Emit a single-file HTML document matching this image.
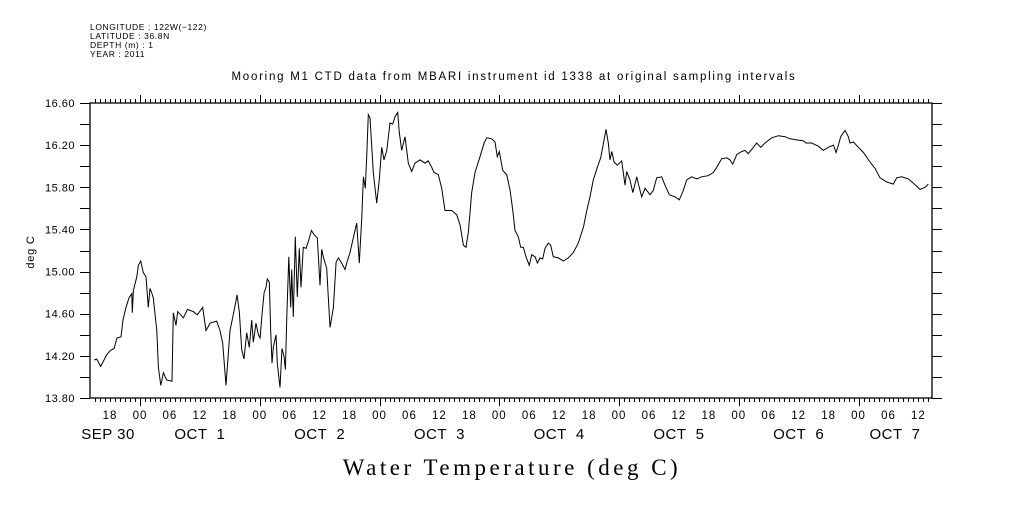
<!DOCTYPE html>
<html><head><meta charset="utf-8"><style>
body{margin:0;background:#fff}
svg text{font-family:"Liberation Sans",sans-serif;fill:#000}
</style></head><body>
<svg id="chart" width="1009" height="504" viewBox="0 0 1009 504" xmlns="http://www.w3.org/2000/svg">
<g font-size="8.5" letter-spacing="0.6">
<text x="90" y="30">LONGITUDE : 122W(−122)</text>
<text x="90" y="39">LATITUDE : 36.8N</text>
<text x="90" y="48">DEPTH (m) : 1</text>
<text x="90" y="57">YEAR : 2011</text>
</g>
<text x="514" y="80" font-size="11.5" letter-spacing="1.75" text-anchor="middle">Mooring M1 CTD data from MBARI instrument id 1338 at original sampling intervals</text>
<text transform="translate(34,252) rotate(-90)" font-size="11" letter-spacing="0.8" text-anchor="middle">deg C</text>
<text x="512" y="475" font-size="23" letter-spacing="3.5" text-anchor="middle" style="font-family:'Liberation Serif',serif">Water Temperature (deg C)</text>
<g id="axes"></g>
<g id="series"></g>
</svg>
<script>
const times=[14.8,15.33,16.13,17.33,18.0,18.8,19.4,20.2,20.6,21.2,21.8,22.35,22.46,22.67,23.35,23.67,24.15,24.67,25.21,25.67,26.01,26.41,26.67,27.36,27.68,28.16,28.68,29.36,30.42,30.68,31.22,31.56,32.69,33.49,34.69,35.49,36.57,37.23,38.04,39.38,40.04,40.58,41.24,42.04,42.85,43.45,43.91,44.39,44.85,45.39,45.91,46.39,46.71,47.25,47.72,48.06,48.40,48.86,49.26,49.52,49.92,50.2,50.46,50.72,51.26,51.52,52.06,52.46,52.87,53.13,53.41,53.81,54.21,54.41,54.73,55.13,55.53,55.93,56.27,56.73,57.27,57.82,58.34,58.88,59.54,60.08,60.42,60.74,61.42,62.08,62.75,63.29,63.75,64.43,65.09,65.43,66.09,66.75,67.43,67.95,68.44,68.76,69.16,69.44,69.76,70.1,70.76,71.44,71.96,72.44,72.9,73.45,74.1,74.65,75.1,75.65,75.97,76.45,77.11,77.77,78.45,79.12,80.12,81.12,81.78,82.46,82.92,83.78,84.47,85.13,85.79,86.47,87.47,88.14,88.8,89.34,89.8,90.48,91.14,92.14,92.95,93.49,94.49,95.15,95.61,96.01,96.69,97.49,98.16,98.7,99.16,99.82,100.3,100.82,101.36,102.02,102.5,103.17,103.63,104.17,104.71,105.17,105.83,106.31,106.83,107.84,108.84,109.84,110.84,111.84,112.85,113.53,114.19,114.85,115.65,116.33,116.73,117.39,117.85,118.19,118.54,119.0,119.66,120.54,121.2,121.54,122.2,122.75,123.55,123.87,124.55,125.21,126.21,126.87,127.55,128.55,129.22,130.08,131.21,132.08,132.88,133.56,134.57,135.57,136.57,137.89,138.89,139.57,140.58,141.58,142.24,142.78,143.59,144.59,145.25,145.91,146.59,147.59,148.4,149.26,150.6,151.93,153.27,154.27,155.61,156.94,157.47,158.61,159.94,160.94,161.95,162.95,163.49,163.95,164.43,165.29,165.95,166.29,166.96,167.96,168.96,170.3,171.3,172.3,173.65,174.97,175.65,176.65,177.98,178.97,180.32,181.32,181.98];
const temps=[14.16,14.17,14.10,14.21,14.25,14.27,14.37,14.38,14.54,14.66,14.75,14.79,14.61,14.82,14.95,15.06,15.10,14.99,14.95,14.66,14.84,14.79,14.75,14.44,14.09,13.92,14.04,13.97,13.96,14.61,14.49,14.62,14.56,14.64,14.62,14.59,14.66,14.44,14.51,14.53,14.44,14.32,13.92,14.44,14.63,14.78,14.61,14.26,14.17,14.42,14.28,14.54,14.33,14.51,14.40,14.37,14.57,14.80,14.85,14.93,14.90,14.44,14.13,14.28,14.40,14.13,13.90,14.27,14.19,14.07,14.57,15.14,14.66,15.02,14.57,15.33,14.76,15.22,14.85,15.23,15.22,15.30,15.39,15.35,15.32,14.87,15.21,15.14,15.03,14.47,14.66,15.09,15.13,15.08,15.02,15.08,15.18,15.32,15.46,15.08,15.52,15.90,15.79,16.09,16.49,16.46,15.94,15.65,15.87,16.18,16.06,16.15,16.41,16.40,16.47,16.51,16.32,16.15,16.28,16.03,15.95,16.03,16.06,16.03,16.05,15.99,15.94,15.92,15.79,15.58,15.58,15.58,15.54,15.44,15.25,15.23,15.37,15.75,15.94,16.09,16.22,16.27,16.26,16.23,16.09,16.14,15.96,15.92,15.77,15.58,15.39,15.33,15.23,15.23,15.14,15.06,15.16,15.14,15.08,15.13,15.12,15.22,15.27,15.25,15.14,15.13,15.10,15.13,15.18,15.27,15.42,15.58,15.71,15.87,15.99,16.08,16.18,16.35,16.22,16.06,16.14,16.04,16.01,16.05,15.82,15.95,15.87,15.75,15.90,15.83,15.71,15.79,15.73,15.77,15.89,15.90,15.82,15.73,15.71,15.68,15.77,15.87,15.90,15.88,15.90,15.91,15.94,15.99,16.07,16.08,16.06,16.02,16.11,16.14,16.15,16.12,16.16,16.22,16.18,16.22,16.27,16.29,16.28,16.26,16.25,16.24,16.22,16.22,16.19,16.15,16.18,16.20,16.13,16.20,16.28,16.34,16.28,16.22,16.23,16.18,16.13,16.04,15.98,15.89,15.85,15.83,15.89,15.90,15.88,15.84,15.78,15.80,15.83];
const yTicks=[16.6,16.2,15.8,15.4,15.0,14.6,14.2,13.8];
const hourLabels=["18","00","06","12","18","00","06","12","18","00","06","12","18","00","06","12","18","00","06","12","18","00","06","12","18","00","06","12","12"];
const dayLabels=["SEP 30","OCT  1","OCT  2","OCT  3","OCT  4","OCT  5","OCT  6","OCT  7"];

const L=90,R=932,T=103,B=398;
const xs=t=>140+(t-24)*4.99;
const ys=v=>T+(16.6-v)*(B-T)/2.8;
const NS="http://www.w3.org/2000/svg";
const axes=document.getElementById('axes');
function mk(tag,attrs,parent){const e=document.createElementNS(NS,tag);for(const k in attrs)e.setAttribute(k,attrs[k]);parent.appendChild(e);return e;}
const frame=mk('rect',{x:L,y:T,width:R-L,height:B-T,fill:'none',stroke:'#000','stroke-width':1.3},axes);


let d='';
for(let v=13.8;v<=16.61;v+=0.2){const y=Math.round(ys(v))+0.5;d+=`M${L-10},${y}H${L}M${R},${y}H${R+10}`;}
for(let h=15;h<=182;h++){const x=Math.round(xs(h))+0.5;const len=h%24===0?8:4;d+=`M${x},${T}V${T-len}M${x},${B}V${B+len}`;}
const tk=mk('path',{d:d,stroke:'#000','stroke-width':1,fill:'none'},axes);


yTicks.forEach(v=>{const t=mk('text',{x:75,y:ys(v)+4,'font-size':11,'letter-spacing':0.5,'text-anchor':'end'},axes);t.textContent=v.toFixed(2);

});
hourLabels.forEach((s,i)=>{const h=18+i*6;if(h>182)return;const t=mk('text',{x:xs(h),y:419,'font-size':11.5,'letter-spacing':1,'text-anchor':'middle'},axes);t.textContent=s;

});
dayLabels.forEach((s,i)=>{let cx=xs(12+i*24);if(i===0)cx=108;if(i===dayLabels.length-1)cx=895;const t=mk('text',{x:cx,y:439,'font-size':15,'letter-spacing':0.5,'text-anchor':'middle','xml:space':'preserve'},axes);t.style.whiteSpace='pre';t.textContent=s;

});
const pts=times.map((t,i)=>xs(t).toFixed(1)+','+ys(temps[i]).toFixed(1)).join(' ');
const line=mk('polyline',{points:pts,fill:'none',stroke:'#000','stroke-width':1},document.getElementById('series'));


</script>
</body></html>
